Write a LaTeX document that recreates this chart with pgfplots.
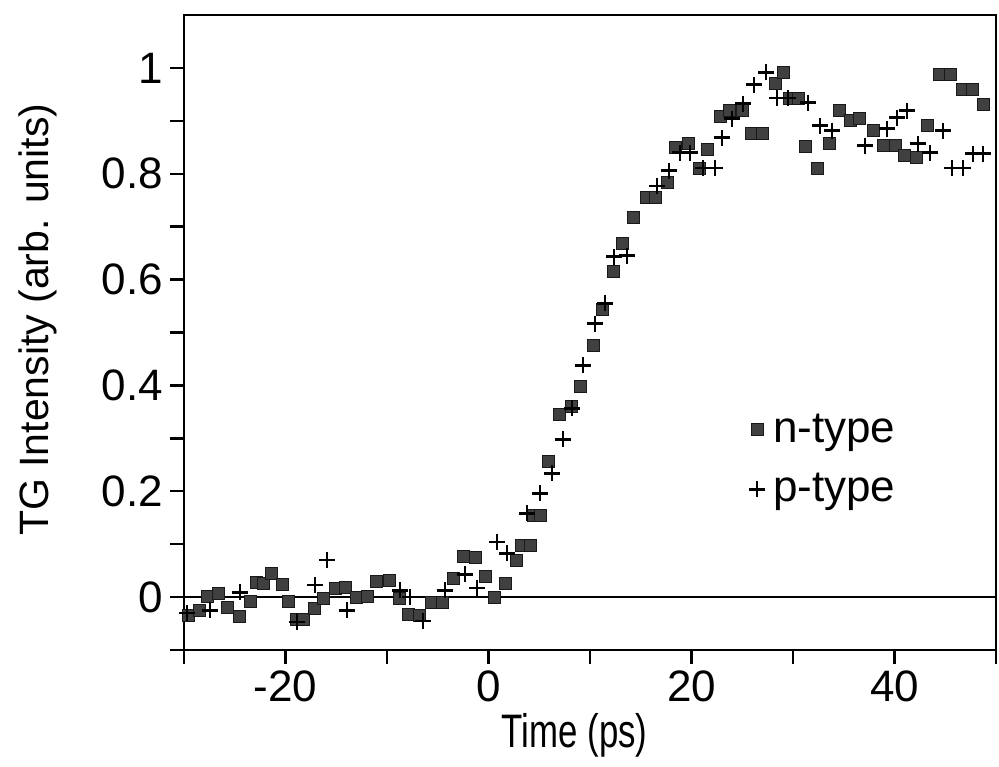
\documentclass[border=0pt]{standalone}
\usepackage{fontspec}
\setmainfont{Liberation Sans}
\usepackage{pgfplots}
\usepackage{pgfplotstable}
\pgfplotsset{compat=1.18}

% transient grating signal, n-type sample
\pgfplotstableread{
t      I
-29.51 -0.034
-28.52 -0.026
-27.64 0.002
-26.65 0.006
-25.76 -0.019
-24.58 -0.036
-23.40 -0.009
-22.81 0.028
-22.12 0.026
-21.33 0.045
-20.25 0.023
-19.66 -0.009
-18.87 -0.042
-18.18 -0.043
-17.19 -0.021
-16.21 -0.002
-15.12 0.017
-14.04 0.019
-12.96 0.000
-11.97 0.002
-10.99 0.030
-9.80 0.032
-8.72 -0.002
-7.93 -0.032
-6.75 -0.034
-5.57 -0.011
-4.58 -0.011
-3.40 0.036
-2.51 0.077
-1.33 0.075
-0.34 0.038
0.64 0.000
1.72 0.026
2.71 0.070
3.30 0.098
4.09 0.098
4.48 0.155
5.17 0.155
5.96 0.257
7.04 0.345
8.13 0.360
9.11 0.398
10.30 0.475
11.28 0.543
12.36 0.615
13.25 0.668
14.33 0.717
15.52 0.755
16.50 0.755
17.59 0.783
18.47 0.849
19.66 0.857
20.74 0.809
21.53 0.845
22.81 0.908
23.79 0.919
24.98 0.919
25.96 0.877
26.95 0.877
28.23 0.970
29.11 0.991
29.70 0.943
30.59 0.943
31.28 0.851
32.46 0.809
33.55 0.858
34.63 0.919
35.62 0.900
36.60 0.904
37.98 0.881
38.87 0.853
40.05 0.853
41.03 0.834
42.12 0.830
43.30 0.891
44.48 0.987
45.47 0.987
46.65 0.960
47.64 0.960
48.72 0.930
}\ntype

% transient grating signal, p-type sample
\pgfplotstableread{
t      I
-29.70 -0.030
-27.44 -0.025
-24.48 0.009
-18.87 -0.047
-17.09 0.023
-15.91 0.070
-13.94 -0.025
-8.72 0.013
-7.73 0.000
-6.45 -0.045
-4.29 0.013
-2.32 0.043
-1.13 0.017
0.84 0.104
1.82 0.083
3.79 0.158
5.07 0.196
6.26 0.234
7.34 0.298
8.23 0.357
9.31 0.438
10.49 0.517
11.48 0.555
12.36 0.643
13.65 0.645
16.60 0.777
17.78 0.806
18.87 0.840
19.85 0.840
21.13 0.811
22.32 0.811
23.00 0.868
23.99 0.904
25.07 0.932
26.16 0.968
27.34 0.992
28.42 0.943
29.51 0.943
31.48 0.934
32.66 0.891
33.84 0.881
37.09 0.853
39.26 0.885
40.25 0.906
41.23 0.919
42.32 0.857
43.50 0.840
44.78 0.881
45.67 0.811
46.75 0.811
47.73 0.838
48.72 0.838
}\ptype

\begin{document}
\begin{tikzpicture}
\useasboundingbox (-92pt,-58pt) rectangle (407.5pt,325pt);
\begin{axis}[
  at={(0pt,0pt)}, anchor=south west,
  scale only axis, width=406pt, height=317.5pt,
  xmin=-30, xmax=50, ymin=-0.1, ymax=1.1,
  clip=false,
  axis line style={line width=1.2pt},
  tick align=outside, tick pos=left,
  major tick length=7pt,
  every tick/.style={line width=1.2pt, black},
  xtick={-30,-20,-10,0,10,20,30,40,50},
  xticklabels={,-20,,0,,20,,40,},
  ytick={-0.1,0,0.1,0.2,0.3,0.4,0.5,0.6,0.7,0.8,0.9,1},
  yticklabels={,0,,0.2,,0.4,,0.6,,0.8,,1},
  tick label style={font=\fontsize{22}{26}\selectfont},
  xlabel={\scalebox{0.74}[1]{Time (ps)}},
  ylabel={TG Intensity (arb. units)},
  x label style={font=\fontsize{23.5}{28}\selectfont, at={(axis description cs:0.481,-0.134)}, anchor=center},
  y label style={font=\fontsize{20.5}{24}\selectfont, at={(axis description cs:-0.18,0.52)}, anchor=center, rotate=0},
  legend style={draw=none, fill=none, at={(rel axis cs:0.688,0.385)}, anchor=north west,
    font=\fontsize{22}{26}\selectfont, row sep=10pt,
    /tikz/every even column/.append style={column sep=0pt}},
  legend cell align=left,
  legend image post style={xshift=-4pt},
]
\draw[line width=1pt] (axis cs:-30,0) -- (axis cs:50,0);
\addplot[only marks, mark=square*, mark size=3pt,
  mark options={fill=black!75, draw=black!90, line width=0.5pt}]
  table[x=t, y=I] {\ntype};
\addlegendentry{\hspace{2pt}n-type}
\addplot[only marks, mark=+, mark size=4pt,
  mark options={draw=black, line width=1.4pt}]
  table[x=t, y=I] {\ptype};
\addlegendentry{\hspace{2pt}p-type}
\end{axis}
\end{tikzpicture}
\end{document}
